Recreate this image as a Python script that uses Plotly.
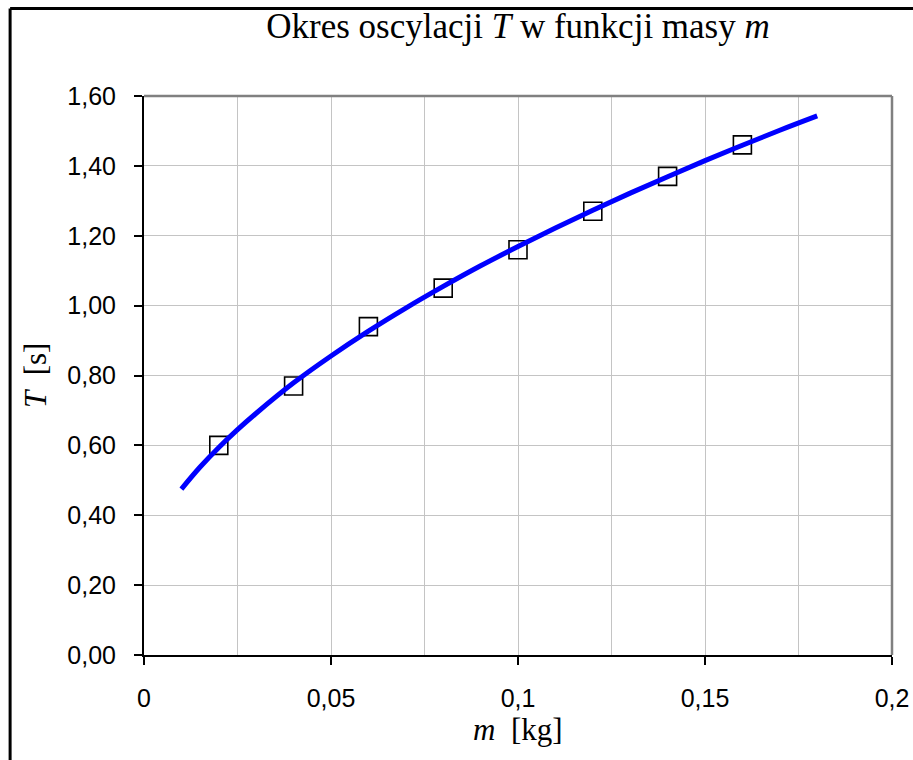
import plotly.graph_objects as go

# Measured data points
mass_kg = [0.02, 0.04, 0.06, 0.08, 0.10, 0.12, 0.14, 0.16]
period_s = [0.60, 0.77, 0.94, 1.05, 1.16, 1.27, 1.37, 1.46]

# Trend curve
curve_m = [0.01, 0.015, 0.02, 0.025, 0.03, 0.04, 0.05, 0.06, 0.07, 0.08, 0.09,
           0.10, 0.11, 0.12, 0.13, 0.14, 0.15, 0.16, 0.17, 0.18]
curve_T = [0.475, 0.538, 0.594, 0.645, 0.692, 0.779, 0.856, 0.927, 0.993, 1.055,
           1.114, 1.169, 1.222, 1.273, 1.322, 1.369, 1.415, 1.459, 1.502, 1.543]

x_ticks = [0, 0.05, 0.1, 0.15, 0.2]
x_tick_labels = ["0", "0,05", "0,1", "0,15", "0,2"]
y_ticks = [0, 0.2, 0.4, 0.6, 0.8, 1.0, 1.2, 1.4, 1.6]
y_tick_labels = ["0,00", "0,20", "0,40", "0,60", "0,80", "1,00", "1,20", "1,40", "1,60"]

serif = "Liberation Serif, Times New Roman, serif"
sans = "Liberation Sans, Arial, sans-serif"

fig = go.Figure()
fig.add_trace(go.Scatter(
    x=mass_kg, y=period_s, mode="markers",
    marker=dict(symbol="square-open", size=18, color="black", line=dict(width=1.6, color="black")),
    showlegend=False, cliponaxis=False,
))
fig.add_trace(go.Scatter(
    x=curve_m, y=curve_T, mode="lines",
    line=dict(color="#0000FF", width=5, shape="spline"),
    showlegend=False,
))

fig.update_layout(
    width=913, height=760,
    margin=dict(l=144, r=21, t=96, b=105, autoexpand=False),
    paper_bgcolor="white", plot_bgcolor="white",
    title=dict(
        text="Okres oscylacji <i>T</i> w funkcji masy <i>m</i>",
        font=dict(family=serif, size=35, color="black"),
        x=0.5, xref="paper", y=0.966, yref="container", xanchor="center", yanchor="middle",
    ),
    xaxis=dict(
        range=[0, 0.2], tickvals=x_ticks, ticktext=x_tick_labels,
        ticks="outside", ticklen=8, tickwidth=1.5, tickcolor="black",
        showline=True, linecolor="black", linewidth=2,
        showgrid=True, gridcolor="#c4c4c4", gridwidth=1,
        minor=dict(dtick=0.025, tick0=0, showgrid=True, gridcolor="#c4c4c4", gridwidth=1, ticks=""),
        tickfont=dict(family=sans, size=25, color="black"),
        ticklabelstandoff=12,
        zeroline=False, automargin=False,
    ),
    yaxis=dict(
        range=[0, 1.6], tickvals=y_ticks, ticktext=y_tick_labels,
        ticks="outside", ticklen=8, tickwidth=1.5, tickcolor="black",
        showline=True, linecolor="black", linewidth=2,
        showgrid=True, gridcolor="#c4c4c4", gridwidth=1,
        tickfont=dict(family=sans, size=25, color="black"),
        ticklabelstandoff=13,
        zeroline=False, automargin=False,
    ),
    annotations=[
        dict(text="<i>m</i>  [kg]", xref="paper", yref="paper", x=0.5, y=-0.134,
             xanchor="center", yanchor="middle", showarrow=False,
             font=dict(family=serif, size=31, color="black")),
        dict(text="<i>T</i>  [s]", xref="paper", yref="paper", x=-0.145, y=0.5,
             xanchor="center", yanchor="middle", showarrow=False, textangle=-90,
             font=dict(family=serif, size=31, color="black")),
    ],
    shapes=[
        # grey top and right frame of the plot area
        dict(type="line", xref="paper", yref="paper", x0=0, x1=1, y0=1, y1=1,
             line=dict(color="#808080", width=2.5)),
        dict(type="line", xref="paper", yref="paper", x0=1, x1=1, y0=0, y1=1,
             line=dict(color="#808080", width=2.5)),
        # outer chart border (left and top visible)
        dict(type="line", xref="paper", yref="paper", x0=-0.179, x1=1.05, y0=1.1565, y1=1.1565,
             line=dict(color="black", width=3)),
        dict(type="line", xref="paper", yref="paper", x0=-0.179, x1=-0.179, y0=-0.2, y1=1.1565,
             line=dict(color="black", width=3)),
    ],
)

fig.write_html(
    "out.html",
    config={"displayModeBar": False},
    post_script="document.body.style.margin='0';document.body.style.overflow='hidden';",
)
